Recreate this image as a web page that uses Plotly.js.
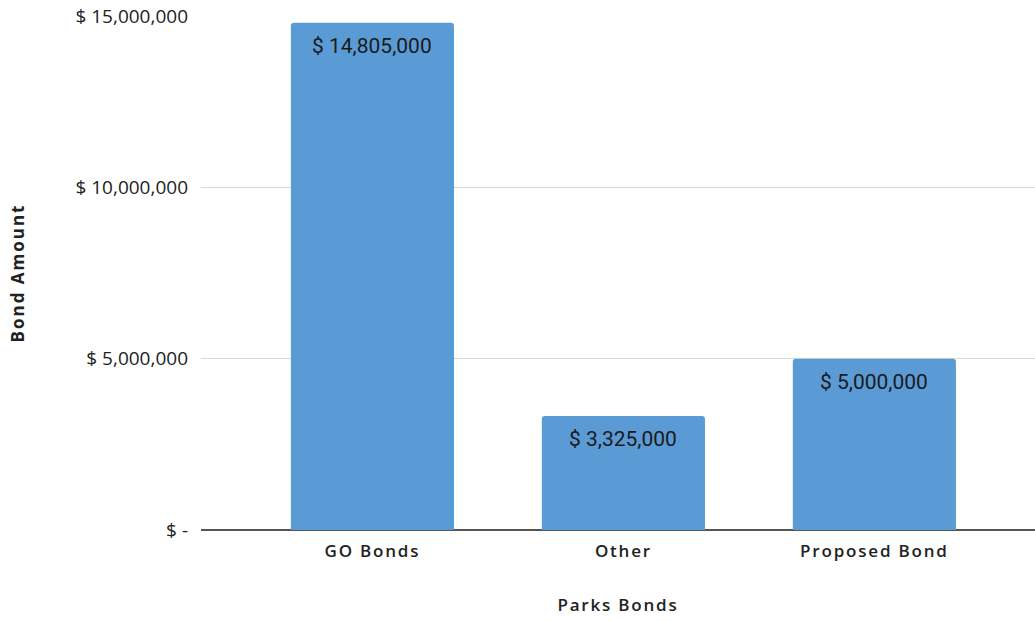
<!DOCTYPE html>
<html>
<head>
<meta charset="utf-8">
<script src="https://cdn.plot.ly/plotly-3.0.1.min.js"></script>
<style>
html,body{margin:0;padding:0;background:#fff}
#chart{width:1035px;height:621px}
#chart .xtick text, #chart .g-xtitle text { letter-spacing: 1.8px; }
#chart .g-ytitle text { letter-spacing: 2px; }
</style>
</head>
<body>
<div id="chart"></div>
<script>
const categories = ["GO Bonds", "Other", "Proposed Bond"];
const amounts = [14805000, 3325000, 5000000];
const barLabels = ["$ 14,805,000", "$ 3,325,000", "$ 5,000,000"];
const yTickVals = [0, 5000000, 10000000, 15000000];
const yTickText = ["$ -", "$ 5,000,000", "$ 10,000,000", "$ 15,000,000"];

const trace = {
  type: "bar",
  x: categories,
  y: amounts,
  width: 0.65,
  marker: {color: "#5b9bd5", cornerradius: 3},
  hoverinfo: "none"
};

const annotations = categories.map((c, i) => ({
  x: c, y: amounts[i], xref: "x", yref: "y",
  text: barLabels[i], showarrow: false,
  yanchor: "top", yshift: -9,
  font: {family: "Roboto, sans-serif", size: 21, color: "#1a1a1a"}
}));

const layout = {
  width: 1035, height: 621,
  margin: {l: 201, r: 0, t: 16, b: 91},
  paper_bgcolor: "#ffffff", plot_bgcolor: "#ffffff",
  showlegend: false,
  xaxis: {
    type: "category",
    range: [-0.683, 2.64],
    showgrid: false,
    showline: false,
    zeroline: false,
    ticks: "",
    ticklabelstandoff: 9,
    tickfont: {family: "'Open Sans', sans-serif", size: 17, weight: 600, color: "#222"},
    title: {text: "Parks Bonds", font: {family: "'Open Sans', sans-serif", size: 17, weight: 600, color: "#222"}, standoff: 38}
  },
  yaxis: {
    range: [0, 15000000],
    tickvals: yTickVals,
    ticktext: yTickText,
    showgrid: true,
    gridcolor: "#d9d9d9",
    gridwidth: 1,
    zeroline: true,
    zerolinecolor: "#555555",
    zerolinewidth: 1.5,
    showline: false,
    ticks: "",
    ticklabelstandoff: 12,
    tickfont: {family: "'Open Sans', sans-serif", size: 19, color: "#222"},
    title: {text: "Bond Amount", font: {family: "'Open Sans', sans-serif", size: 17, weight: 700, color: "#222"}, standoff: 46}
  },
  annotations: annotations
};

Plotly.newPlot("chart", [trace], layout, {displayModeBar: false, staticPlot: true});
</script>
</body>
</html>
